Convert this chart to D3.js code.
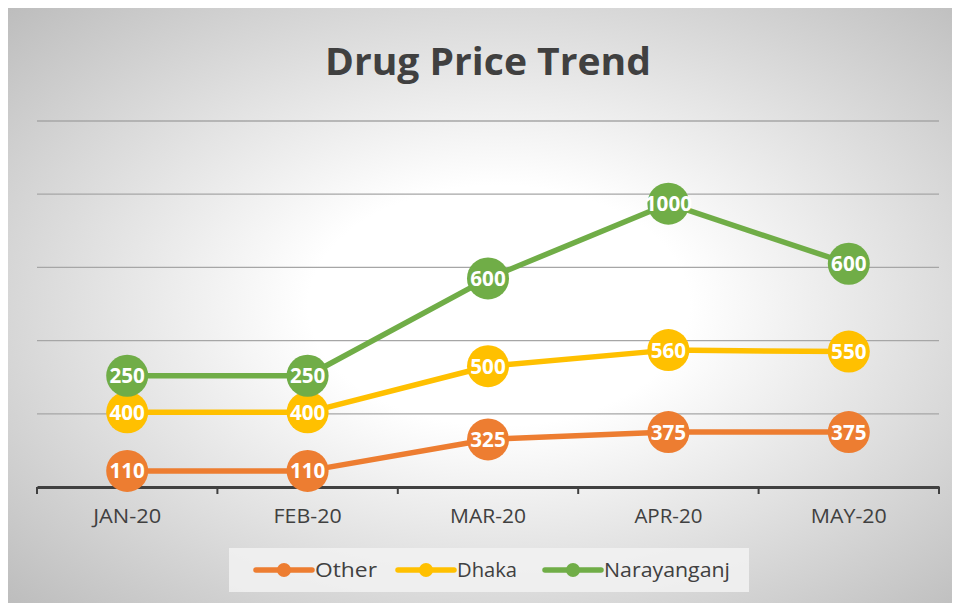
<!DOCTYPE html>
<html>
<head>
<meta charset="utf-8">
<script src="https://cdn.jsdelivr.net/npm/d3@7"></script>
<style>
  body { margin: 0; background: #fff; }
  text { font-family: "Open Sans", "Noto Sans", sans-serif; }
</style>
</head>
<body>
<div id="chart"></div>
<script>
const months = ["JAN-20", "FEB-20", "MAR-20", "APR-20", "MAY-20"];
const seriesNames = ["Other", "Dhaka", "Narayanganj"];
const other = [110, 110, 325, 375, 375];
const dhaka = [400, 400, 500, 560, 550];
const narayanganj = [250, 250, 600, 1000, 600];
const colors = ["#ed7d31", "#ffc000", "#70ad47"];
const yTicks = [0, 500, 1000, 1500, 2000, 2500];

const W = 958, H = 603;
const margin = {left: 37, right: 19, top: 121, bottom: 115};

const svg = d3.select("#chart").append("svg")
  .attr("width", W).attr("height", H);

// background with radial gradient
const defs = svg.append("defs");
const grad = defs.append("radialGradient").attr("id", "bg")
  .attr("cx", "52%").attr("cy", "50%").attr("r", "72%");
grad.append("stop").attr("offset", "0%").attr("stop-color", "#ffffff");
grad.append("stop").attr("offset", "28%").attr("stop-color", "#ffffff");
grad.append("stop").attr("offset", "100%").attr("stop-color", "#bdbdbd");

svg.append("rect").attr("x", 8).attr("y", 8).attr("width", 944).attr("height", 595)
  .attr("fill", "url(#bg)");

svg.append("text").attr("x", 488).attr("y", 75).attr("text-anchor", "middle")
  .attr("font-size", 38).attr("font-weight", "bold").attr("fill", "#404040")
  .attr("textLength", 326).attr("lengthAdjust", "spacingAndGlyphs")
  .text("Drug Price Trend");

const x = d3.scaleBand().domain(months).range([margin.left, W - margin.right]);
const y = d3.scaleLinear().domain([0, 2500]).range([H - margin.bottom - 1, margin.top]);

// gridlines
svg.append("g").selectAll("line").data(yTicks.slice(1)).join("line")
  .attr("x1", margin.left).attr("x2", W - margin.right)
  .attr("y1", d => y(d)).attr("y2", d => y(d))
  .attr("stroke", "#a6a6a6").attr("stroke-width", 1.3);

// x axis
const xAxis = svg.append("g").attr("transform", `translate(0,${y(0)})`)
  .call(d3.axisBottom(x).tickSize(0).tickPadding(22));
xAxis.select(".domain").attr("stroke", "#404040").attr("stroke-width", 3);
xAxis.selectAll("text").attr("font-size", 20).attr("fill", "#404040")
  .attr("font-family", "Open Sans")
  .attr("textLength", d => d.startsWith("MA") ? 76 : 68)
  .attr("lengthAdjust", "spacingAndGlyphs");
const edges = months.map(m => x(m)).concat([x.range()[1]]);
svg.append("g").selectAll("line").data(edges).join("line")
  .attr("x1", d => d).attr("x2", d => d)
  .attr("y1", y(0)).attr("y2", y(0) + 7)
  .attr("stroke", "#404040").attr("stroke-width", 2);

// stacked series
const rows = months.map((m, i) => ({month: m, Other: other[i], Dhaka: dhaka[i], Narayanganj: narayanganj[i]}));
const stack = d3.stack().keys(seriesNames)(rows);

const cx = m => x(m) + x.bandwidth() / 2;
const line = d3.line().x(d => cx(d.data.month)).y(d => y(d[1]));

stack.forEach((s, k) => {
  svg.append("path").datum(s).attr("d", line)
    .attr("fill", "none").attr("stroke", colors[k]).attr("stroke-width", 5.5)
    .attr("stroke-linejoin", "round");
});
stack.forEach((s, k) => {
  const g = svg.append("g");
  g.selectAll("circle").data(s).join("circle")
    .attr("cx", d => cx(d.data.month)).attr("cy", d => y(d[1]))
    .attr("r", 21).attr("fill", colors[k]);
  g.selectAll("text").data(s).join("text")
    .attr("x", d => cx(d.data.month)).attr("y", d => y(d[1]) + 7.5)
    .attr("text-anchor", "middle").attr("font-size", 21).attr("font-weight", "bold")
    .attr("fill", "#fff")
    .attr("textLength", d => String(d.data[s.key]).length * 11.8)
    .attr("lengthAdjust", "spacingAndGlyphs")
    .text(d => d.data[s.key]);
});

// legend
svg.append("rect").attr("x", 229).attr("y", 548).attr("width", 520).attr("height", 44)
  .attr("fill", "#f2f2f2").attr("opacity", 0.85);
const legendX = [256, 398, 545];
const legendW = [62, 60, 126];
seriesNames.forEach((n, k) => {
  const g = svg.append("g").attr("transform", `translate(${legendX[k]},570)`);
  g.append("line").attr("x1", 0).attr("x2", 56).attr("stroke", colors[k])
    .attr("stroke-width", 5.5).attr("stroke-linecap", "round");
  g.append("circle").attr("cx", 28).attr("r", 7).attr("fill", colors[k]);
  g.append("text").attr("x", 59).attr("y", 7).attr("font-size", 20).attr("fill", "#404040")
    .attr("textLength", legendW[k]).attr("lengthAdjust", "spacingAndGlyphs")
    .text(n);
});
</script>
</body>
</html>
